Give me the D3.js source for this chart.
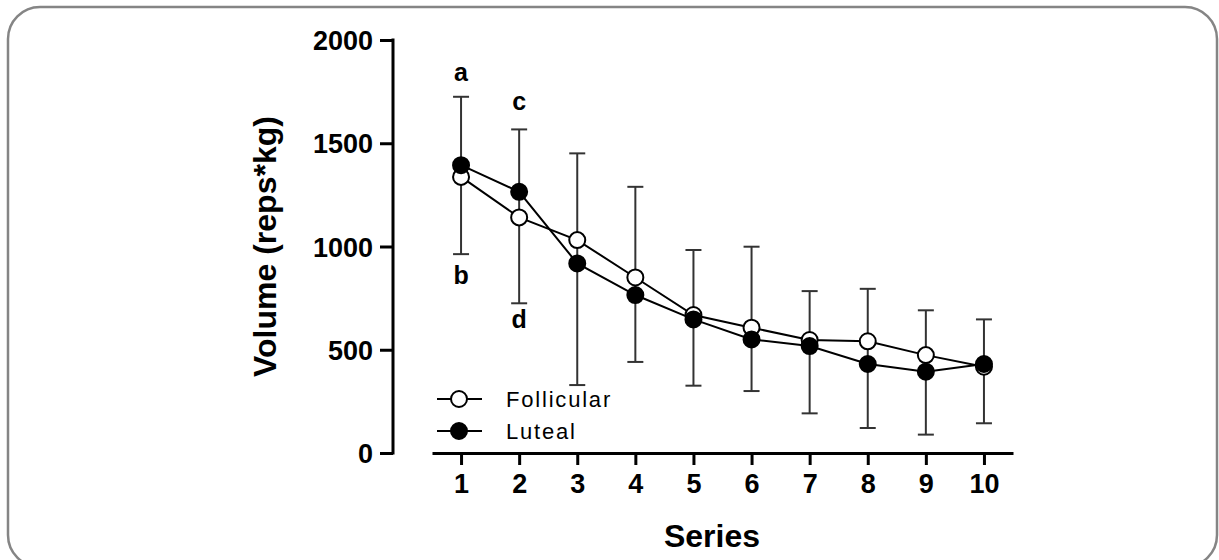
<!DOCTYPE html>
<html>
<head>
<meta charset="utf-8">
<script src="https://cdn.jsdelivr.net/npm/d3@7"></script>
<style>
  body { margin: 0; background: #fff; }
  svg { display: block; font-family: Arial, "Liberation Sans", sans-serif; }
  .axis path, .axis line { stroke: #000; stroke-width: 3; }
  .axis text { font-weight: bold; fill: #000; }
  .title { font-weight: bold; font-size: 32px; text-anchor: middle; }
  .letter { font-weight: bold; font-size: 25px; text-anchor: middle; }
  .legend-text { font-size: 22px; letter-spacing: 1.8px; }
</style>
</head>
<body>
<svg class="chart" width="1219" height="560"></svg>
<script>
const series = [1, 2, 3, 4, 5, 6, 7, 8, 9, 10];
const follicular = [1337, 1141, 1031, 850, 668, 607, 547, 541, 474, 418];
const luteal = [1394, 1265, 918, 765, 647, 550, 518, 431, 394, 431];
const errUpper = [1725, 1567, 1451, 1289, 983, 999, 784, 795, 691, 647];
const errLower = [963, 725, 329, 441, 326, 300, 192, 121, 89, 144];
const yTicks = [0, 500, 1000, 1500, 2000];
const letters = [
  { s: 1, v: 1800, t: 'a' }, { s: 1, v: 820, t: 'b' },
  { s: 2, v: 1660, t: 'c' }, { s: 2, v: 605, t: 'd' },
];

const startApp = () => {
  const svg = d3.select('.chart');
  const xScale = d3.scaleLinear().domain([0.5, 10.5]).range([432, 1013]);
  const yScale = d3.scaleLinear().domain([0, 2000]).range([453, 40]);

  svg.append('rect')
    .attr('x', 8).attr('y', 7).attr('width', 1209).attr('height', 560)
    .attr('rx', 32).attr('ry', 32)
    .attr('fill', 'none').attr('stroke', '#858585').attr('stroke-width', 2.5);

  const yAxis = d3.axisLeft(yScale).tickValues(yTicks).tickFormat(d3.format('d'))
    .tickSize(13).tickSizeOuter(0).tickPadding(7);
  const yg = svg.append('g').classed('axis', true)
    .attr('transform', 'translate(393, 0)').call(yAxis);
  yg.selectAll('text').style('font-size', '27px').attr('dy', '0.36em');
  yg.select('.domain').attr('d', `M0,${yScale(2000) - 1.5}V${yScale(0) + 1.5}`);

  const xAxis = d3.axisBottom(xScale).tickValues(series).tickSize(12).tickSizeOuter(0).tickPadding(9);
  const xg = svg.append('g').classed('axis', true)
    .attr('transform', `translate(0, ${yScale(0)})`).call(xAxis);
  xg.selectAll('text').style('font-size', '27px').attr('dy', '0.72em');

  svg.append('text').classed('title', true)
    .attr('x', 712).attr('y', 547).text('Series');
  svg.append('text').classed('title', true)
    .attr('transform', `translate(276, ${(yScale(0) + yScale(2000)) / 2}) rotate(-90)`)
    .text('Volume (reps*kg)');

  // error bars
  const bars = svg.append('g').attr('stroke', '#333').attr('stroke-width', 2);
  series.forEach((s, i) => {
    const x = xScale(s);
    bars.append('line').attr('x1', x).attr('x2', x).attr('y1', yScale(errUpper[i])).attr('y2', yScale(errLower[i]));
    bars.append('line').attr('x1', x - 8).attr('x2', x + 8).attr('y1', yScale(errUpper[i])).attr('y2', yScale(errUpper[i]));
    bars.append('line').attr('x1', x - 8).attr('x2', x + 8).attr('y1', yScale(errLower[i])).attr('y2', yScale(errLower[i]));
  });

  const line = d3.line().x((d, i) => xScale(series[i])).y(d => yScale(d));
  [follicular, luteal].forEach((values) => {
    svg.append('path').datum(values).attr('d', line)
      .attr('fill', 'none').attr('stroke', '#000').attr('stroke-width', 2);
  });

  const drawPoints = (values, fill) => {
    svg.append('g').selectAll('circle').data(values).enter().append('circle')
      .attr('cx', (d, i) => xScale(series[i])).attr('cy', d => yScale(d)).attr('r', 8)
      .attr('fill', fill).attr('stroke', '#000').attr('stroke-width', 2);
  };
  drawPoints(follicular, '#fff');
  drawPoints(luteal, '#000');

  svg.selectAll('.letter').data(letters).enter().append('text').classed('letter', true)
    .attr('x', d => xScale(d.s)).attr('y', d => yScale(d.v)).text(d => d.t);

  // legend
  const legend = [{ name: 'Follicular', fill: '#fff', y: 399 }, { name: 'Luteal', fill: '#000', y: 431 }];
  legend.forEach(({ name, fill, y }) => {
    svg.append('line').attr('x1', 437).attr('x2', 482).attr('y1', y).attr('y2', y)
      .attr('stroke', '#000').attr('stroke-width', 2);
    svg.append('circle').attr('cx', 459).attr('cy', y).attr('r', 8)
      .attr('fill', fill).attr('stroke', '#000').attr('stroke-width', 2);
    svg.append('text').classed('legend-text', true)
      .attr('x', 506).attr('y', y + 8).text(name);
  });
};

window.onload = startApp;
</script>
</body>
</html>
